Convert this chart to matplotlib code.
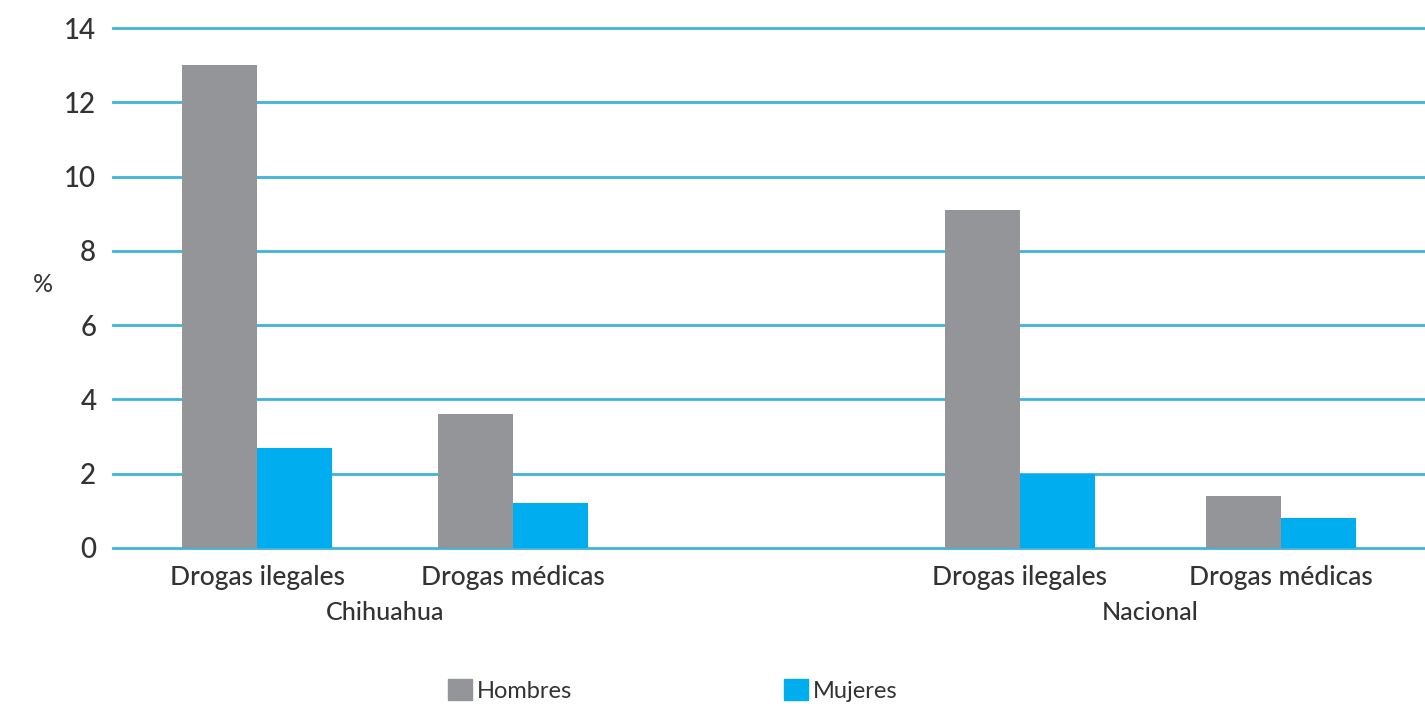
import numpy as np
import matplotlib.pyplot as plt
import matplotlib.transforms as mtransforms
from matplotlib.patches import Patch

# data
regions = ["Chihuahua", "Nacional"]
categories = ["Drogas ilegales", "Drogas médicas", "Drogas ilegales", "Drogas médicas"]
hombres = [13.0, 3.6, 9.1, 1.4]
mujeres = [2.7, 1.2, 2.0, 0.8]
yticks = [0, 2, 4, 6, 8, 10, 12, 14]

grayColor = "#939598"
blueColor = "#00aeef"
gridColor = "#3fb3db"
textColor = "#333333"

plt.rcParams["font.family"] = ["Lato", "DejaVu Sans"]

fig = plt.figure(figsize=(14.25, 7.06), dpi=100)
ax = fig.add_axes([0.0793, 0.2238, 0.9207, 0.7362])

pos = np.array([0, 1, 2.98, 4])
width = 0.293

ax.bar(pos - width / 2, hombres, width=width, color=grayColor, zorder=3)
ax.bar(pos + width / 2, mujeres, width=width, color=blueColor, zorder=3)

for y in yticks:
    ax.axhline(y, color=gridColor, linewidth=2, zorder=1, clip_on=False)

ax.set_xlim(-0.5625, 4.5625)
ax.set_ylim(0, 14)
ax.set_yticks(yticks)
ax.set_yticklabels([str(t) for t in yticks], fontsize=20, color=textColor,
                   fontweight="medium")
ax.set_xticks(pos)
ax.set_xticklabels(categories, fontsize=19, color=textColor, fontweight="medium")
ax.tick_params(axis="y", length=0, pad=12)
ax.tick_params(axis="x", length=0, pad=12)
for s in ax.spines.values():
    s.set_visible(False)

trans = mtransforms.blended_transform_factory(ax.transData, fig.transFigure)
ax.text((pos[0] + pos[1]) / 2, 0.132, regions[0], transform=trans, ha="center",
        va="center", fontsize=18, color=textColor, fontweight="medium")
ax.text((pos[2] + pos[3]) / 2, 0.132, regions[1], transform=trans, ha="center",
        va="center", fontsize=18, color=textColor, fontweight="medium")

fig.text(0.030, 0.597, "%", fontsize=18, color=textColor, ha="center", va="center")

handles = [Patch(color=grayColor, label="Hombres"), Patch(color=blueColor, label="Mujeres")]
fig.legend(handles=handles, loc="center", bbox_to_anchor=(0.472, 0.022), ncol=2,
           frameon=False, fontsize=17, handlelength=1.0, handleheight=1.0,
           handletextpad=0.2, columnspacing=9.0, labelcolor=textColor)

fig.savefig("out.png", dpi=100)
